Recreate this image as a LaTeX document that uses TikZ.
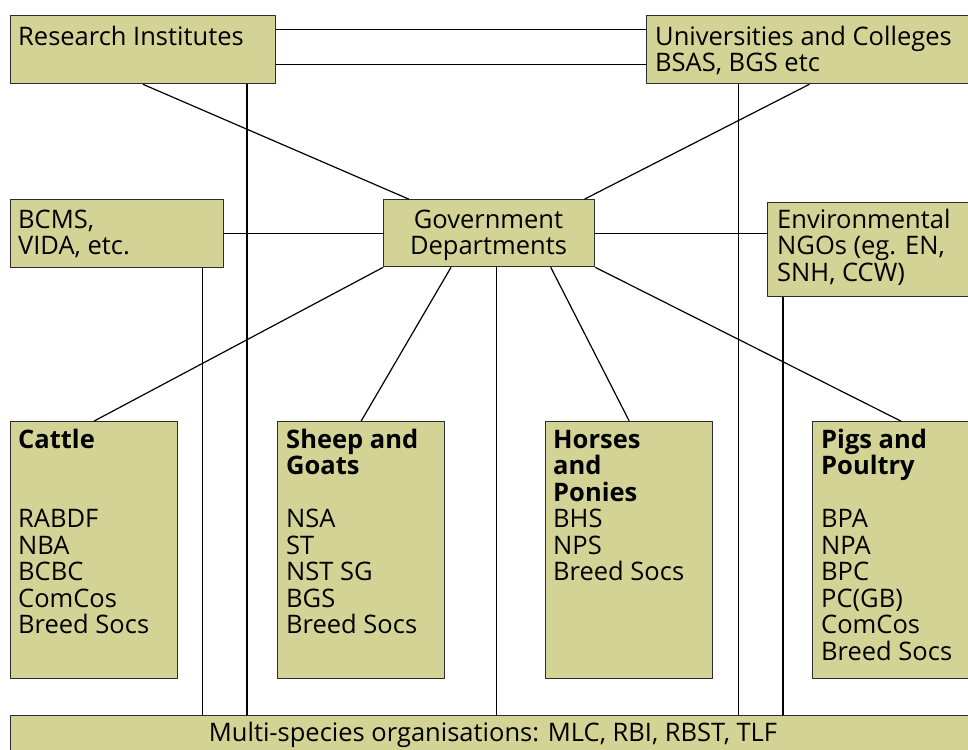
\documentclass[tikz,border=0pt]{standalone}
\usepackage{fontspec}
\setmainfont{Open Sans}
\usetikzlibrary{calc}

\definecolor{boxfill}{RGB}{211,211,150}
\definecolor{boxline}{RGB}{45,45,45}
\newcommand{\orgfont}{\fontsize{25.5}{26.5}\selectfont}
% fixed first-line height, so that the text's top sits 22pt above its first baseline
\newcommand{\topline}{\rule{0pt}{22pt}}

\tikzset{
  orgbox/.style={draw=boxline, line width=1.4pt, fill=boxfill, anchor=north west, inner sep=0pt},
  orgtext/.style={anchor=north west, align=left, inner sep=0pt, yshift=22pt, font=\orgfont},
  link/.style={line width=1.2pt, line cap=round},
}

\begin{document}
\begin{tikzpicture}[x=1pt, y=-1pt, line join=round]
  \useasboundingbox (0,0) rectangle (968,749);

  % boxes
  \node[orgbox, minimum width=265pt, minimum height=68pt] (ri)     at (10,15)  {};
  \node[orgbox, minimum width=325pt, minimum height=68pt] (uni)    at (646,15) {};
  \node[orgbox, minimum width=213pt, minimum height=68pt] (bcms)   at (10,199) {};
  \node[orgbox, minimum width=211pt, minimum height=67pt] (gov)    at (383,199) {};
  \node[orgbox, minimum width=204pt, minimum height=94pt] (ngo)    at (767,202) {};
  \node[orgbox, minimum width=167pt, minimum height=257pt] (cattle) at (10,421) {};
  \node[orgbox, minimum width=167pt, minimum height=257pt] (sheep)  at (277,421) {};
  \node[orgbox, minimum width=167pt, minimum height=257pt] (horses) at (545,421) {};
  \node[orgbox, minimum width=159pt, minimum height=257pt] (pigs)   at (812,421) {};
  \node[orgbox, minimum width=961pt, minimum height=60pt] (multi)  at (10,715) {};

  % texts (positions are first baselines)
  \node[orgtext] (ri-t)  at (18,45)  {\topline Research Institutes};
  \node[orgtext] (uni-t) at (655,45) {\topline Universities and Colleges\\BSAS, BGS etc};
  \node[orgtext] (bcms-t) at (18,228) {\topline BCMS,\\VIDA, etc.};
  \node[orgtext, anchor=north, align=center] (gov-t) at (488.5,228)
    {\topline Government\\Departments};
  \node[orgtext] (ngo-t) at (777,228) {\topline Environmental\\NGOs (eg. EN,\\SNH, CCW)};
  \node[orgtext] (cattle-t) at (18,448)
    {\topline\textbf{Cattle}\\[53pt]RABDF\\NBA\\BCBC\\ComCos\\Breed Socs};
  \node[orgtext] (sheep-t) at (286,448)
    {\topline\textbf{Sheep and}\\\textbf{Goats}\\[26.5pt]NSA\\ST\\NST SG\\BGS\\Breed Socs};
  \node[orgtext] (horses-t) at (553,448)
    {\topline\textbf{Horses}\\\textbf{and}\\\textbf{Ponies}\\BHS\\NPS\\Breed Socs};
  \node[orgtext] (pigs-t) at (821,448)
    {\topline\textbf{Pigs and}\\\textbf{Poultry}\\[26.5pt]BPA\\NPA\\BPC\\PC(GB)\\ComCos\\Breed Socs};
  \node[orgtext, anchor=north, align=center] (multi-t) at (493,741)
    {\topline Multi-species organisations: MLC, RBI, RBST, TLF};

  % top pair
  \draw[link] ($(ri.north east)!0.21!(ri.south east)$) -- ($(uni.north west)!0.21!(uni.south west)$);
  \draw[link] ($(ri.north east)!0.71!(ri.south east)$) -- ($(uni.north west)!0.71!(uni.south west)$);
  \draw[link] (ri.south) -- ($(gov.north west)!0.12!(gov.north east)$);
  \draw[link] (uni.south) -- ($(gov.north west)!0.95!(gov.north east)$);

  % middle row
  \draw[link] (bcms.east) -- (bcms.east -| gov.west);
  \draw[link] (gov.east) -- (gov.east -| ngo.west);

  % species groups
  \draw[link] (gov.south west) -- (cattle.north);
  \draw[link] ($(gov.south west)!0.32!(gov.south east)$) -- (sheep.north);
  \draw[link] ($(gov.south west)!0.79!(gov.south east)$) -- (horses.north);
  \draw[link] (gov.south east) -- ($(pigs.north west)!0.553!(pigs.north east)$);

  % verticals down to multi-species
  \coordinate (ri-v)   at ($(ri.south west)!0.89!(ri.south east)$);
  \coordinate (uni-v)  at ($(uni.south west)!0.283!(uni.south east)$);
  \coordinate (bcms-v) at ($(bcms.south west)!0.897!(bcms.south east)$);
  \coordinate (ngo-v)  at ($(ngo.south west)!0.078!(ngo.south east)$);
  \coordinate (gov-v)  at ($(gov.south west)!0.535!(gov.south east)$);
  \foreach \v in {ri-v, uni-v, bcms-v, ngo-v, gov-v}
    \draw[link] (\v) -- (\v |- multi.north);
\end{tikzpicture}
\end{document}
